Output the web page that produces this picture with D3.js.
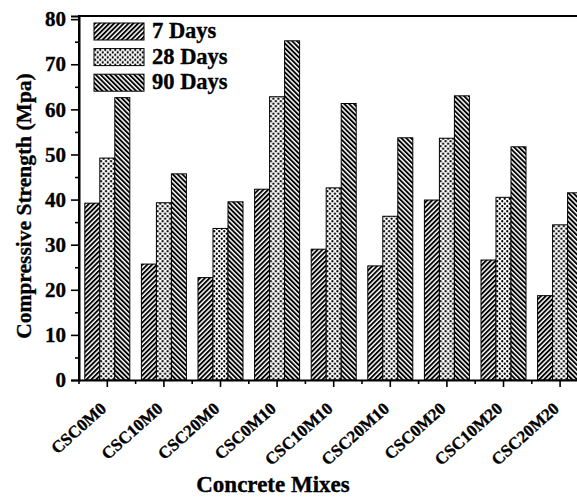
<!DOCTYPE html>
<html><head><meta charset="utf-8">
<script src="https://cdn.jsdelivr.net/npm/d3@7"></script>
<style>
body{margin:0;background:#fff;overflow:hidden;}
text{font-family:"Liberation Serif","Times New Roman",serif;font-weight:bold;fill:#000;stroke:#000;stroke-width:0.35px;}
</style>
</head><body>
<svg id="chart" width="577" height="498"></svg>
<script>
// ---- data ----
const categories = ["CSC0M0","CSC10M0","CSC20M0","CSC0M10","CSC10M10","CSC20M10","CSC0M20","CSC10M20","CSC20M20"];
const seriesNames = ["7 Days","28 Days","90 Days"];
const days7  = [39.2, 25.7, 22.7, 42.3, 29.0, 25.3, 39.9, 26.6, 18.7];
const days28 = [49.2, 39.3, 33.6, 62.8, 42.6, 36.3, 53.6, 40.5, 34.4];
const days90 = [62.6, 45.7, 39.5, 75.2, 61.3, 53.7, 63.0, 51.7, 41.5];
const yTicks = [0, 10, 20, 30, 40, 50, 60, 70, 80];
const yMinorTicks = [5, 15, 25, 35, 45, 55, 65, 75];
const xTitle = "Concrete Mixes";
const yTitle = "Compressive Strength (Mpa)";

const seriesValues = [days7, days28, days90];
const patternIds = ["pFwd", "pDots", "pBack"];

const svg = d3.select("#chart");
const M = { left: 79, bottom: 380, top: 16, right: 588.4 };

// patterns
const defs = svg.append("defs");
function stripe(id, angle) {
  const p = defs.append("pattern").attr("id", id).attr("patternUnits", "userSpaceOnUse")
    .attr("width", 3.4).attr("height", 6).attr("patternTransform", `rotate(${angle})`);
  p.append("rect").attr("width", 3.4).attr("height", 6).attr("fill", "#fff");
  p.append("rect").attr("width", 1.9).attr("height", 6).attr("fill", "#000");
}
stripe("pFwd", 45);
stripe("pBack", -45);
const pd = defs.append("pattern").attr("id", "pDots").attr("patternUnits", "userSpaceOnUse")
  .attr("width", 5).attr("height", 5);
pd.append("rect").attr("width", 5).attr("height", 5).attr("fill", "#fff");
[[1.25, 1.25], [3.75, 3.75]].forEach(([cx, cy]) =>
  pd.append("circle").attr("cx", cx).attr("cy", cy).attr("r", 1.15).attr("fill", "#000"));

// scales
const x0 = d3.scaleBand().domain(categories).range([M.left, M.right]).paddingInner(0.205).paddingOuter(0.1025);
const x1 = d3.scaleBand().domain(seriesNames).range([0, x0.bandwidth()]);
const y = d3.scaleLinear().domain([0, 80.7]).range([M.bottom, M.top]);

// bars
const groups = svg.append("g").selectAll("g").data(categories).join("g")
  .attr("transform", d => `translate(${x0(d)},0)`);
groups.selectAll("rect")
  .data((c, i) => seriesNames.map((s, k) => ({ s, k, v: seriesValues[k][i] })))
  .join("rect")
  .attr("x", d => x1(d.s))
  .attr("y", d => y(d.v))
  .attr("width", x1.bandwidth())
  .attr("height", d => y(0) - y(d.v))
  .attr("fill", d => `url(#${patternIds[d.k]})`)
  .attr("stroke", "#000").attr("stroke-width", 1);

// frame (top + left + bottom)
svg.append("path")
  .attr("d", `M${M.left},${M.bottom}V${M.top}H${M.right}`)
  .attr("fill", "none").attr("stroke", "#000").attr("stroke-width", 2);

// y axis
const yAxis = svg.append("g").attr("transform", `translate(${M.left},0)`)
  .call(d3.axisLeft(y).tickValues(yTicks).tickSize(8).tickPadding(5).tickFormat(d3.format("d")));
yAxis.select(".domain").attr("stroke-width", 2);
yAxis.selectAll(".tick line").attr("stroke-width", 1.6);
yAxis.selectAll("text").style("font-size", "21px").style("font-family", '"Liberation Serif",serif').style("font-weight", "bold");
svg.append("g").attr("transform", `translate(${M.left},0)`)
  .call(d3.axisLeft(y).tickValues(yMinorTicks).tickSize(4).tickFormat(""))
  .call(g => g.select(".domain").remove())
  .selectAll(".tick line").attr("stroke-width", 1.6);

// x axis
const xAxis = svg.append("g").attr("transform", `translate(0,${M.bottom})`)
  .call(d3.axisBottom(x0).tickSize(7).tickSizeOuter(0));
xAxis.select(".domain").attr("stroke-width", 2);
xAxis.selectAll(".tick line").attr("stroke-width", 1.6);
xAxis.selectAll("text")
  .style("font-size", "17px").style("font-family", '"Liberation Serif",serif').style("font-weight", "bold")
  .style("text-anchor", "end")
  .attr("x", 0).attr("y", 0).attr("dy", "0")
  .attr("transform", "translate(0,30) rotate(-42)");
// minor ticks at band boundaries
svg.append("g").selectAll("line").data(d3.range(categories.length + 1)).join("line")
  .attr("x1", i => M.left + i * x0.step()).attr("x2", i => M.left + i * x0.step())
  .attr("y1", M.bottom).attr("y2", M.bottom + 4)
  .attr("stroke", "#000").attr("stroke-width", 1.6);

// axis titles
svg.append("text").attr("x", 273).attr("y", 492).attr("text-anchor", "middle")
  .style("font-size", "23px").text(xTitle);
svg.append("text").attr("transform", "translate(31,206) rotate(-90)").attr("text-anchor", "middle")
  .style("font-size", "21.5px").text(yTitle);

// legend
const legend = svg.append("g").selectAll("g").data(seriesNames).join("g")
  .attr("transform", (d, i) => `translate(94,${23 + i * 25.6})`);
legend.append("rect").attr("width", 50).attr("height", 17)
  .attr("fill", (d, i) => `url(#${patternIds[i]})`).attr("stroke", "#000").attr("stroke-width", 1);
legend.append("text").attr("x", 58).attr("y", 15).style("font-size", "22.5px").text(d => d);
</script>
</body></html>
